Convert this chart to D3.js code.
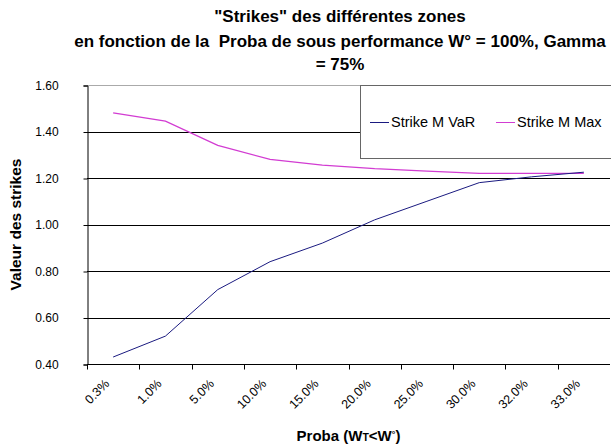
<!DOCTYPE html>
<html>
<head>
<meta charset="utf-8">
<script src="https://cdnjs.cloudflare.com/ajax/libs/d3/7.8.5/d3.min.js"></script>
<style>
  body { margin: 0; background: #fff; }
  svg { font-family: "Liberation Sans", Arial, sans-serif; display: block; }
</style>
</head>
<body>
<svg width="611" height="446"></svg>
<script>
// data
const categories = ["0.3%", "1.0%", "5.0%", "10.0%", "15.0%", "20.0%", "25.0%", "30.0%", "32.0%", "33.0%"];
const strikeVaR = [0.43, 0.52, 0.72, 0.84, 0.92, 1.02, 1.10, 1.18, 1.205, 1.225];
const strikeMax = [1.48, 1.445, 1.34, 1.28, 1.255, 1.24, 1.23, 1.22, 1.22, 1.22];
const yTicks = [0.40, 0.60, 0.80, 1.00, 1.20, 1.40, 1.60];
const seriesNames = ["Strike M VaR", "Strike M Max"];
const seriesColors = ["#1a1a80", "#d23cd2"];

const svg = d3.select("svg");
const pad = {left: 87, top: 85, right: 610, bottom: 364};

const x = d3.scaleBand().domain(categories).range([pad.left, pad.right]);
const y = d3.scaleLinear().domain([0.4, 1.6]).range([pad.bottom, pad.top]);

// title
const title = svg.append("text")
  .attr("text-anchor", "middle")
  .attr("font-weight", "bold")
  .attr("font-size", 17);
title.append("tspan").attr("x", 340).attr("y", 22).text("\"Strikes\" des différentes zones");
title.append("tspan").attr("x", 340).attr("y", 47).text("en fonction de la\u00a0 Proba de sous performance W° = 100%, Gamma");
title.append("tspan").attr("x", 340).attr("y", 70).text("= 75%");

// gridlines
svg.append("g")
  .selectAll("line")
  .data(yTicks.slice(1))
  .enter()
  .append("line")
  .attr("x1", pad.left)
  .attr("x2", pad.right)
  .attr("y1", d => Math.round(y(d)) + 0.5)
  .attr("y2", d => Math.round(y(d)) + 0.5)
  .attr("stroke", d => d == 1.6 ? "#aaa" : "#000")
  .attr("stroke-width", 1);

// y axis
const yAxis = d3.axisLeft(y).tickValues(yTicks).tickSize(4).tickFormat(d3.format(".2f"));
const gy = svg.append("g")
  .attr("transform", "translate(" + (pad.left + 0.5) + ",0.5)")
  .call(yAxis);
gy.select(".domain").attr("stroke", "#000");
gy.selectAll(".tick line").attr("stroke", "#000");
gy.selectAll("text").attr("font-size", 12).attr("fill", "#000").attr("font-family", "Liberation Sans, Arial").attr("x", -40.5).attr("text-anchor", "middle");

// x axis, ticks between categories
const gx = svg.append("g")
  .attr("transform", "translate(0," + (pad.bottom + 0.5) + ")");
gx.append("line")
  .attr("x1", pad.left).attr("x2", pad.right)
  .attr("stroke", "#000");
gx.selectAll("line.tk")
  .data(categories)
  .enter()
  .append("line")
  .attr("class", "tk")
  .attr("x1", d => Math.round(x(d)) + 0.5)
  .attr("x2", d => Math.round(x(d)) + 0.5)
  .attr("y1", 0).attr("y2", 5)
  .attr("stroke", "#000");
gx.selectAll("text")
  .data(categories)
  .enter()
  .append("text")
  .attr("font-size", 12.5)
  .attr("text-anchor", "end")
  .attr("transform", d => "translate(" + (x(d) + x.bandwidth() / 2 - 3) + ",20) rotate(-45)")
  .text(d => d);

// axis titles
svg.append("text")
  .attr("transform", "translate(21," + ((pad.top + pad.bottom) / 2) + ") rotate(-90)")
  .attr("text-anchor", "middle")
  .attr("font-weight", "bold")
  .attr("font-size", 15.5)
  .text("Valeur des strikes");

const xt = svg.append("text")
  .attr("x", (pad.left + pad.right) / 2).attr("y", 441)
  .attr("text-anchor", "middle")
  .attr("font-weight", "bold")
  .attr("font-size", 15);
xt.append("tspan").text("Proba (W");
xt.append("tspan").attr("font-size", 10.5).text("T");
xt.append("tspan").text("<W");
xt.append("tspan").attr("font-size", 9).attr("dy", -4).text("°");
xt.append("tspan").attr("dy", 4).text(")");

// lines
const line = d3.line()
  .x((d, i) => x(categories[i]) + x.bandwidth() / 2)
  .y(d => y(d));

[strikeMax, strikeVaR].forEach((s, k) => {
  svg.append("path")
    .datum(s)
    .attr("fill", "none")
    .attr("stroke", k == 0 ? seriesColors[1] : seriesColors[0])
    .attr("stroke-width", k == 0 ? 1.3 : 1)
    .attr("d", line);
});

// legend
const legend = svg.append("g").attr("id", "legend");
legend.append("rect")
  .attr("x", 360.5).attr("y", 85.5)
  .attr("width", 260).attr("height", 73)
  .attr("fill", "#fff")
  .attr("stroke", "#666");
const legX = [370, 496];
seriesNames.forEach((n, i) => {
  legend.append("line")
    .attr("x1", legX[i]).attr("x2", legX[i] + 19)
    .attr("y1", 122.5).attr("y2", 122.5)
    .attr("stroke", seriesColors[i])
    .attr("stroke-width", 1);
  legend.append("text")
    .attr("x", legX[i] + 21).attr("y", 127)
    .attr("font-size", 14.5)
    .text(n);
});
</script>
</body>
</html>
